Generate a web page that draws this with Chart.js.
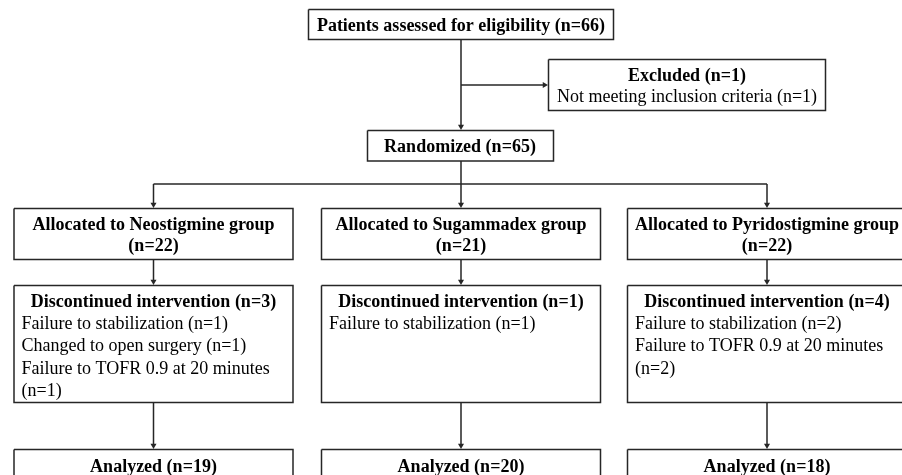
<!DOCTYPE html>
<html>
<head>
<meta charset="utf-8">
<script src="https://cdn.jsdelivr.net/npm/chart.js@4/dist/chart.umd.min.js"></script>
<style>
  html, body { margin: 0; padding: 0; background: #fff; }
  canvas { display: block; }
</style>
</head>
<body>
<canvas id="flow" width="902" height="475"></canvas>
<script>
// counts
const assessed = 66;
const excluded = 1;
const excludedReason = "Not meeting inclusion criteria";
const randomized = 65;
const groups = ["Neostigmine", "Sugammadex", "Pyridostigmine"];
const allocated = [22, 21, 22];
const discontinued = [3, 1, 4];
const reasons = [
    ["Failure to stabilization (n=1)", "Changed to open surgery (n=1)", "Failure to TOFR 0.9 at 20 minutes", "(n=1)"],
    ["Failure to stabilization (n=1)"],
    ["Failure to stabilization (n=2)", "Failure to TOFR 0.9 at 20 minutes", "(n=2)"]
];
const analyzed = [19, 20, 18];

// layout (in axis units, same as pixels here)
const colX = [153.5, 461, 767];
const colHalf = 139.5;
const lineColor = "#262626";
const arrowR = 3.5;

function rect(l, t, r, b) {
    return {
        data: [{x: l, y: t}, {x: r, y: t}, {x: r, y: b}, {x: l, y: b}, {x: l, y: t}],
        showLine: true, borderColor: lineColor, borderWidth: 1.5,
        pointRadius: 0, fill: false, tension: 0, clip: false
    };
}

function seg(x1, y1, x2, y2) {
    return {
        data: [{x: x1, y: y1}, {x: x2, y: y2}],
        showLine: true, borderColor: lineColor, borderWidth: 1.5,
        pointRadius: 0, tension: 0, clip: false
    };
}

// arrow ends with a small triangle whose tip touches (x2, y2)
function arrow(x1, y1, x2, y2) {
    let down = y2 > y1;
    let ex = down ? x2 : x2 - arrowR;
    let ey = down ? y2 - arrowR : y2;
    return {
        data: [{x: x1, y: y1}, {x: ex, y: ey}],
        showLine: true, borderColor: lineColor, borderWidth: 1.5,
        backgroundColor: lineColor, pointBorderWidth: 0,
        pointStyle: "triangle", pointRadius: [0, arrowR],
        pointRotation: down ? 180 : 90, tension: 0, clip: false
    };
}

let datasets = [];
let texts = [];
const bold = "bold 18px 'Liberation Serif', 'Times New Roman', serif";
const normal = "18px 'Liberation Serif', 'Times New Roman', serif";

// top part (text y = baseline)
datasets.push(rect(308.5, 9.5, 613.5, 39.5));
texts.push({t: "Patients assessed for eligibility (n=" + assessed + ")", x: 461, y: 31, f: bold, a: "center"});
datasets.push(seg(461, 39.5, 461, 85));
datasets.push(arrow(461, 85, 548, 85));
datasets.push(rect(548.5, 59.5, 825.5, 110.5));
texts.push({t: "Excluded (n=" + excluded + ")", x: 687, y: 80.5, f: bold, a: "center"});
texts.push({t: excludedReason + " (n=" + excluded + ")", x: 687, y: 102, f: normal, a: "center"});
datasets.push(arrow(461, 85, 461, 130));
datasets.push(rect(367.5, 130.5, 553.5, 161));
texts.push({t: "Randomized (n=" + randomized + ")", x: 460, y: 152, f: bold, a: "center"});
datasets.push(seg(461, 161, 461, 184));
datasets.push(seg(colX[0], 184, colX[2], 184));

groups.forEach((g, i) => {
    let cx = colX[i];
    let l = cx - colHalf, r = cx + colHalf;
    datasets.push(arrow(cx, 184, cx, 208));
    datasets.push(rect(l, 208.5, r, 259.5));
    texts.push({t: "Allocated to " + g + " group", x: cx, y: 229.5, f: bold, a: "center"});
    texts.push({t: "(n=" + allocated[i] + ")", x: cx, y: 250.5, f: bold, a: "center"});
    datasets.push(arrow(cx, 259.5, cx, 285));
    datasets.push(rect(l, 285.5, r, 402.5));
    texts.push({t: "Discontinued intervention (n=" + discontinued[i] + ")", x: cx, y: 307, f: bold, a: "center"});
    reasons[i].forEach((line, k) => {
        texts.push({t: line, x: l + 7.5, y: 329 + k * 22.3, f: normal, a: "left"});
    });
    datasets.push(arrow(cx, 402.5, cx, 449));
    datasets.push(rect(l, 449.5, r, 490));
    texts.push({t: "Analyzed (n=" + analyzed[i] + ")", x: cx, y: 471.5, f: bold, a: "center"});
});

const flowText = {
    id: "flowText",
    afterDatasetsDraw(chart) {
        const ctx = chart.ctx;
        const xs = chart.scales.x, ys = chart.scales.y;
        ctx.save();
        ctx.fillStyle = "#000";
        ctx.textBaseline = "alphabetic";
        texts.forEach(t => {
            ctx.font = t.f;
            ctx.textAlign = t.a;
            ctx.fillText(t.t, xs.getPixelForValue(t.x), ys.getPixelForValue(t.y));
        });
        ctx.restore();
    }
};

new Chart(document.getElementById("flow").getContext("2d"), {
    type: "scatter",
    data: {datasets: datasets},
    options: {
        responsive: false,
        animation: false,
        devicePixelRatio: 1,
        layout: {padding: 0, autoPadding: false},
        scales: {
            x: {type: "linear", min: 0, max: 902, display: false},
            y: {type: "linear", min: 0, max: 475, reverse: true, display: false}
        },
        plugins: {legend: {display: false}, tooltip: {enabled: false}}
    },
    plugins: [flowText]
});
</script>
</body>
</html>
